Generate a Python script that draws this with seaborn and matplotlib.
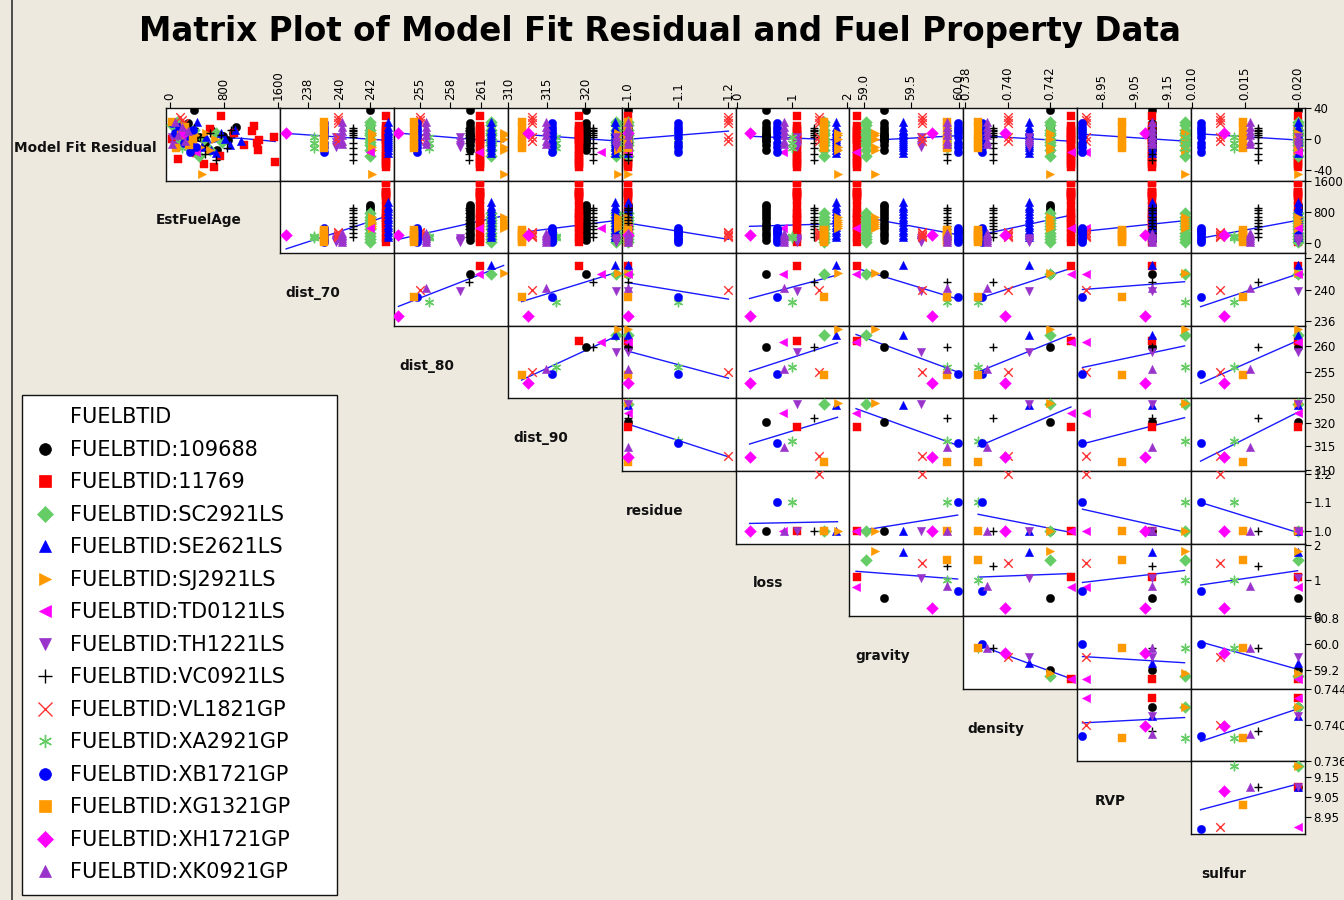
import numpy as np
import pandas as pd
import matplotlib
matplotlib.use("Agg")
import matplotlib.pyplot as plt
from matplotlib.lines import Line2D
import seaborn as sns

plt.rcParams['font.family'] = ['DejaVu Sans']

# ---- fuel level data (one value per fuel) ----
fuels = ["109688", "11769", "SC2921LS", "SE2621LS", "SJ2921LS", "TD0121LS", "TH1221LS",
         "VC0921LS", "VL1821GP", "XA2921GP", "XB1721GP", "XG1321GP", "XH1721GP", "XK0921GP"]
dist_70 = [242.0, 243.0, 242.0, 243.1, 242.1, 242.0, 239.8, 240.9, 239.9, 238.4, 239.0, 239.0, 236.6, 240.2]
dist_80 = [259.9, 260.9, 262.0, 262.0, 263.2, 260.8, 258.9, 259.8, 255.0, 255.9, 254.7, 254.4, 252.9, 255.6]
dist_90 = [320.1, 319.1, 324.0, 323.8, 324.2, 322.0, 324.0, 321.0, 313.0, 316.2, 315.7, 311.7, 312.6, 314.9]
residue = [1.0, 1.0, 1.0, 1.0, 1.0, 1.0, 1.0, 1.0, 1.2, 1.1, 1.1, 1.0, 1.0, 1.0]
loss = [0.51, 1.09, 1.58, 1.79, 1.82, 0.82, 1.08, 1.40, 1.48, 1.00, 0.71, 1.58, 0.22, 0.85]
gravity = [59.21, 58.93, 59.03, 59.41, 59.12, 58.92, 59.60, 59.88, 59.61, 59.88, 59.99, 59.88, 59.72, 59.88]
density = [0.7420, 0.7430, 0.7420, 0.7410, 0.7420, 0.7430, 0.7410, 0.7393, 0.7400, 0.7386, 0.7388, 0.7386, 0.7399, 0.7390]
rvp = [9.10, 9.10, 9.20, 9.10, 9.20, 8.90, 9.10, 9.10, 8.90, 9.20, 8.89, 9.01, 9.08, 9.10]
sulfur = [0.020, 0.020, 0.020, 0.020, 0.020, 0.020, 0.020, 0.0162, 0.0126, 0.0140, 0.0108, 0.0148, 0.0130, 0.0155]

# ---- observation level data: fuel age and model fit residual ----
age_109688 = [350, 80, 170, 260, 430, 520, 610, 700, 780, 860, 930, 980]
res_109688 = [37, 5, -3, 20, 2, -8, 12, -14, 4, -2, 8, 15]
age_11769 = [1560, 1545, 1320, 1300, 1290, 1250, 1210, 1100, 950, 760, 740, 650, 600, 500, 380, 250, 120, 30]
res_11769 = [-30, 3, -1, -14, -5, 17, 10, -8, 8, 29, -22, -36, 13, -32, -18, 5, -26, 0]
age_SC = [30, 110, 190, 270, 350, 430, 510, 590, 680, 770]
res_SC = [18, 22, 5, -8, 12, -22, 0, -15, 8, -4]
age_SE = [150, 220, 290, 330, 400, 470, 540, 610, 680, 750, 820, 890, 960, 1060]
res_SE = [5, 15, 10, -5, 22, -10, 3, -14, -18, 8, 0, -8, 12, -3]
age_SJ = [390, 450, 480, 540, 600, 670]
res_SJ = [5, -10, -46, 8, -14, 0]
age_TD = [390]
res_TD = [-17]
age_TH = [30, 60, 90, 130]
res_TH = [2, -8, -10, -4]
age_VC = [150, 250, 350, 440, 520, 600, 680, 760, 840, 900]
res_VC = [10, -5, 14, 2, -20, 8, -27, 5, -12, 12]
age_VL = [150, 180, 210, 250, 280]
res_VL = [28, 24, 20, 2, -3]
age_XA = [130, 150, 170]
res_XA = [2, -5, -12]
age_XB = [25, 80, 140, 200, 260, 300, 340, 390]
res_XB = [20, 8, 15, -5, 3, -17, 12, -10]
age_XG = [25, 90, 160, 220, 280, 340]
res_XG = [22, -12, 5, 15, -8, 0]
age_XH = [200]
res_XH = [8]
age_XK = [25, 70, 120, 170, 220, 260]
res_XK = [-7, 22, 5, 15, -3, 10]

ages = [age_109688, age_11769, age_SC, age_SE, age_SJ, age_TD, age_TH,
        age_VC, age_VL, age_XA, age_XB, age_XG, age_XH, age_XK]
resids = [res_109688, res_11769, res_SC, res_SE, res_SJ, res_TD, res_TH,
          res_VC, res_VL, res_XA, res_XB, res_XG, res_XH, res_XK]

props = pd.DataFrame({"fuel": fuels, "dist_70": dist_70, "dist_80": dist_80,
                      "dist_90": dist_90, "residue": residue, "loss": loss,
                      "gravity": gravity, "density": density, "RVP": rvp,
                      "sulfur": sulfur})
rows = []
for f, a, r in zip(fuels, ages, resids):
    for ai, ri in zip(a, r):
        rows.append((f, ai, ri))
obs = pd.DataFrame(rows, columns=["fuel", "EstFuelAge", "Model Fit Residual"])
obs = obs.merge(props, on="fuel")

varnames = ["Model Fit Residual", "EstFuelAge", "dist_70", "dist_80", "dist_90",
            "residue", "loss", "gravity", "density", "RVP", "sulfur"]

markers = ["o", "s", "D", "^", ">", "<", "v", "+", "x", (6, 2, 0), "o", "s", "D", "^"]
colors = ["#000000", "#FF0000", "#66CC66", "#0000FF", "#FF9900", "#FF00FF", "#9933CC",
          "#000000", "#FF3333", "#66CC66", "#0000FF", "#FF9900", "#FF00FF", "#9933CC"]
filled_set = ("o", "s", "D", "^", ">", "<", "v")

xlims = {"EstFuelAge": (-60, 1630), "dist_70": (236.2, 243.5), "dist_80": (252.45, 263.6),
         "dist_90": (309.9, 324.7), "residue": (0.988, 1.214), "loss": (-0.036, 2.036),
         "gravity": (58.85, 60.05), "density": (0.7379, 0.7433), "RVP": (8.874, 9.22),
         "sulfur": (0.0099, 0.0207)}
ylims = {"Model Fit Residual": (-54, 40), "EstFuelAge": (-258, 1600), "dist_70": (235.4, 244.6),
         "dist_80": (250.0, 263.85), "dist_90": (309.7, 325.2), "residue": (0.954, 1.21),
         "loss": (0.0, 2.03), "gravity": (58.62, 60.86), "density": (0.736, 0.744),
         "RVP": (8.865, 9.225)}
xticks = {"EstFuelAge": ([0, 800, 1600], ["0", "800", "1600"]),
          "dist_70": ([238, 240, 242], ["238", "240", "242"]),
          "dist_80": ([255, 258, 261], ["255", "258", "261"]),
          "dist_90": ([310, 315, 320], ["310", "315", "320"]),
          "residue": ([1.0, 1.1, 1.2], ["1.0", "1.1", "1.2"]),
          "loss": ([0, 1, 2], ["0", "1", "2"]),
          "gravity": ([59.0, 59.5, 60.0], ["59.0", "59.5", "60.0"]),
          "density": ([0.738, 0.740, 0.742], ["0.738", "0.740", "0.742"]),
          "RVP": ([8.95, 9.05, 9.15], ["8.95", "9.05", "9.15"]),
          "sulfur": ([0.010, 0.015, 0.020], ["0.010", "0.015", "0.020"])}
yticks = {"Model Fit Residual": ([-40, 0, 40], ["-40", "0", "40"]),
          "EstFuelAge": ([0, 800, 1600], ["0", "800", "1600"]),
          "dist_70": ([236, 240, 244], ["236", "240", "244"]),
          "dist_80": ([250, 255, 260], ["250", "255", "260"]),
          "dist_90": ([310, 315, 320], ["310", "315", "320"]),
          "residue": ([1.0, 1.1, 1.2], ["1.0", "1.1", "1.2"]),
          "loss": ([0, 1, 2], ["0", "1", "2"]),
          "gravity": ([59.2, 60.0, 60.8], ["59.2", "60.0", "60.8"]),
          "density": ([0.736, 0.740, 0.744], ["0.736", "0.740", "0.744"]),
          "RVP": ([8.95, 9.05, 9.15], ["8.95", "9.05", "9.15"])}


def lowess(x, y, frac=0.5, steps=2):
    x = np.asarray(x, float)
    y = np.asarray(y, float)
    o = np.argsort(x, kind="mergesort")
    x, y = x[o], y[o]
    n = len(x)
    r = max(int(np.ceil(frac * n)), 2)
    rob = np.ones(n)
    fit = np.zeros(n)
    tiny = (x.max() - x.min()) ** 2 * 1e-10
    for step in range(steps + 1):
        for i in range(n):
            d = np.abs(x - x[i])
            h = max(np.sort(d)[r - 1], 1e-15)
            u = np.clip(d / h, 0, 1)
            w = (1 - u ** 3) ** 3 * rob
            sw = w.sum()
            if sw <= 0:
                fit[i] = y[i]
                continue
            mx = np.sum(w * x) / sw
            my = np.sum(w * y) / sw
            vx = np.sum(w * (x - mx) ** 2)
            b = np.sum(w * (x - mx) * (y - my)) / vx if vx > tiny * sw else 0.0
            fit[i] = my + b * (x[i] - mx)
        res = y - fit
        s = np.median(np.abs(res))
        if s <= 0:
            break
        u = np.clip(res / (6 * s), -1, 1)
        rob = (1 - u ** 2) ** 2
    ux, idx = np.unique(x, return_index=True)
    return ux, fit[idx]


W, H = 1344, 900
bg = "#EDE9DF"
fig = plt.figure(figsize=(W / 100, H / 100), dpi=100)
fig.patch.set_facecolor(bg)

left0, top0 = 166.0, 108.0
cw, rh = 113.9, 72.6
line_color = "#1a1aff"

for r in range(10):
    rvar = varnames[r]
    for c in range(r + 1, 11):
        cvar = varnames[c]
        x0 = left0 + (c - 1) * cw
        y0 = top0 + r * rh
        ax = fig.add_axes([x0 / W, 1 - (y0 + rh) / H, cw / W, rh / H])
        ax.set_facecolor("white")
        data = obs if r <= 1 else props
        if r == 0 and c == 1:
            lx, ly = lowess(data[cvar], data[rvar])
            ax.plot(lx, ly, color=line_color, lw=1.0, zorder=2)
        else:
            sns.regplot(data=data, x=cvar, y=rvar, scatter=False, ci=None, truncate=True,
                        ax=ax, line_kws={"color": line_color, "lw": 1.0, "zorder": 2})
        for k, f in enumerate(fuels):
            sub = data[data["fuel"] == f]
            mk = markers[k]
            filled = mk in filled_set
            sns.scatterplot(data=sub, x=cvar, y=rvar, marker=mk, color=colors[k],
                            s=36 if filled else 38,
                            edgecolor=colors[k] if filled else None,
                            linewidth=0.3 if filled else 1.0,
                            ax=ax, legend=False, zorder=3)
        ax.set_xlim(*xlims[cvar])
        ax.set_ylim(*ylims[rvar])
        ax.set_xlabel("")
        ax.set_ylabel("")
        for sp in ax.spines.values():
            sp.set_color("#111111")
            sp.set_linewidth(1.0)
        if r == 0:
            ax.xaxis.tick_top()
            ax.set_xticks(xticks[cvar][0])
            ax.set_xticklabels(xticks[cvar][1])
            ax.tick_params(axis="x", direction="out", length=4, width=0.8, pad=2,
                           labelsize=8.5, labelrotation=90)
        else:
            ax.set_xticks([])
        if c == 10:
            ax.yaxis.tick_right()
            ax.set_yticks(yticks[rvar][0])
            ax.set_yticklabels(yticks[rvar][1])
            ax.tick_params(axis="y", direction="out", length=4, width=0.8, pad=2,
                           labelsize=8.5)
        else:
            ax.set_yticks([])

# diagonal variable names
for i, name in enumerate(varnames):
    xc = left0 + (i - 0.5) * cw - 24
    yc = top0 + (i + 0.5) * rh + 3.5
    fig.text(xc / W, 1 - yc / H, name, ha="center", va="center",
             fontsize=9.8, fontweight="bold", color="#111111")

fig.text(660 / W, 1 - 31 / H, "Matrix Plot of Model Fit Residual and Fuel Property Data",
         ha="center", va="center", fontsize=23.5, fontweight="bold", color="#000000")

# legend
handles = [Line2D([], [], linestyle="none", marker=None)]
labels = ["FUELBTID"]
for k, f in enumerate(fuels):
    mk = markers[k]
    filled = mk in filled_set
    handles.append(Line2D([], [], linestyle="none", marker=mk, color=colors[k],
                          markersize=8.5 if filled else 9.5,
                          markeredgewidth=0.5 if filled else 1.0))
    labels.append("FUELBTID:" + f)
leg = fig.legend(handles, labels, loc="upper left",
                 bbox_to_anchor=(22 / W, 1 - 395 / H, 315 / W, 1e-6), mode="expand",
                 borderaxespad=0, fontsize=15, labelspacing=0.6, handlelength=1.0,
                 handletextpad=0.7, borderpad=0.6, frameon=True, fancybox=False)
leg.get_frame().set_edgecolor("#111111")
leg.get_frame().set_linewidth(1.0)
leg.get_frame().set_facecolor("white")
leg.get_frame().set_alpha(1)

fig.add_artist(Line2D([12 / W, 12 / W], [0, 1], color="#333333", lw=1.2,
                      transform=fig.transFigure))

fig.savefig("out.png", dpi=100, facecolor=bg)
